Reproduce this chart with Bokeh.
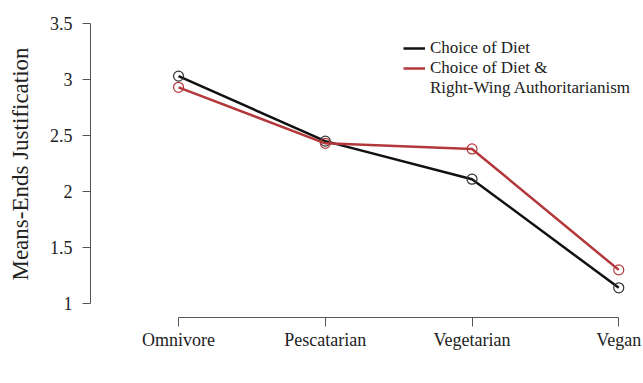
from bokeh.plotting import figure
from bokeh.models import Range1d, FixedTicker, Legend, LegendItem, Label
from bokeh.embed import file_html
from bokeh.resources import INLINE

categories = ["Omnivore", "Pescatarian", "Vegetarian", "Vegan"]
diet_only = [3.03, 2.45, 2.11, 1.14]
diet_rwa = [2.93, 2.43, 2.38, 1.30]
y_ticks = [1, 1.5, 2, 2.5, 3, 3.5]
y_tick_labels = ["1", "1.5", "2", "2.5", "3", "3.5"]
series_names = ["Choice of Diet", "Choice of Diet &", "Right-Wing Authoritarianism"]
x_title = "Choice of Diet"
y_title = "Means-Ends Justification"

FONT = "Liberation Serif"
BLACK = "#111111"
RED = "#B3383C"
AXIS = "#555555"

xs = list(range(len(categories)))

p = figure(width=643, height=383, output_backend="svg", toolbar_location=None,
           x_range=Range1d(-0.6, 3.08), y_range=Range1d(0.875, 3.616),
           min_border_left=90, min_border_right=13, min_border_top=10, min_border_bottom=66)
p.outline_line_color = None
p.grid.visible = False
p.background_fill_color = "white"
p.border_fill_color = "white"

for ax in (p.xaxis[0], p.yaxis[0]):
    ax.axis_line_color = AXIS
    ax.major_tick_line_color = AXIS
    ax.minor_tick_line_color = None
    ax.major_tick_in = 0
    ax.major_label_text_font = FONT
    ax.major_label_text_font_size = "18px"
    ax.major_label_text_color = "#222222"
    ax.axis_label_text_font = FONT
    ax.axis_label_text_font_size = "23px"
    ax.axis_label_text_font_style = "normal"
    ax.axis_label_text_color = "#222222"

p.xaxis.ticker = FixedTicker(ticks=xs)
p.xaxis.major_label_overrides = {i: c for i, c in enumerate(categories)}
p.xaxis.bounds = (xs[0], xs[-1])
p.xaxis.major_tick_out = 9
p.xaxis.major_label_standoff = 3

p.yaxis.ticker = FixedTicker(ticks=y_ticks)
p.yaxis.major_label_overrides = {t: l for t, l in zip(y_ticks, y_tick_labels)}
p.yaxis.bounds = (y_ticks[0], y_ticks[-1])
p.yaxis.major_tick_out = 8
p.yaxis.major_label_standoff = 10
p.yaxis.axis_label = y_title
p.yaxis.axis_label_standoff = 14

l1 = p.line(xs, diet_only, line_color=BLACK, line_width=2.5)
p.scatter(xs, diet_only, size=10, fill_color=None, line_color="#333333", line_width=1.2)
l2 = p.line(xs, diet_rwa, line_color=RED, line_width=2.5)
p.scatter(xs, diet_rwa, size=10, fill_color=None, line_color=RED, line_width=1.2)
l3 = p.line([], [], line_alpha=0)

legend = Legend(items=[LegendItem(label=series_names[0], renderers=[l1]),
                       LegendItem(label=series_names[1], renderers=[l2]),
                       LegendItem(label=series_names[2], renderers=[l3])],
                location=(313, 219), border_line_color=None, background_fill_alpha=0,
                padding=0, margin=0, spacing=0, glyph_width=22, glyph_height=20,
                label_height=20, label_standoff=5,
                label_text_font=FONT, label_text_font_size="17px", label_text_color="#222222")
p.add_layout(legend)

p.add_layout(Label(x=(xs[0] + xs[-1]) / 2, y=0.41, text=x_title, text_font=FONT,
                   text_font_size="21px", text_align="center", text_baseline="middle",
                   text_color="#222222"))

open("out.html", "w").write(file_html(p, INLINE))
